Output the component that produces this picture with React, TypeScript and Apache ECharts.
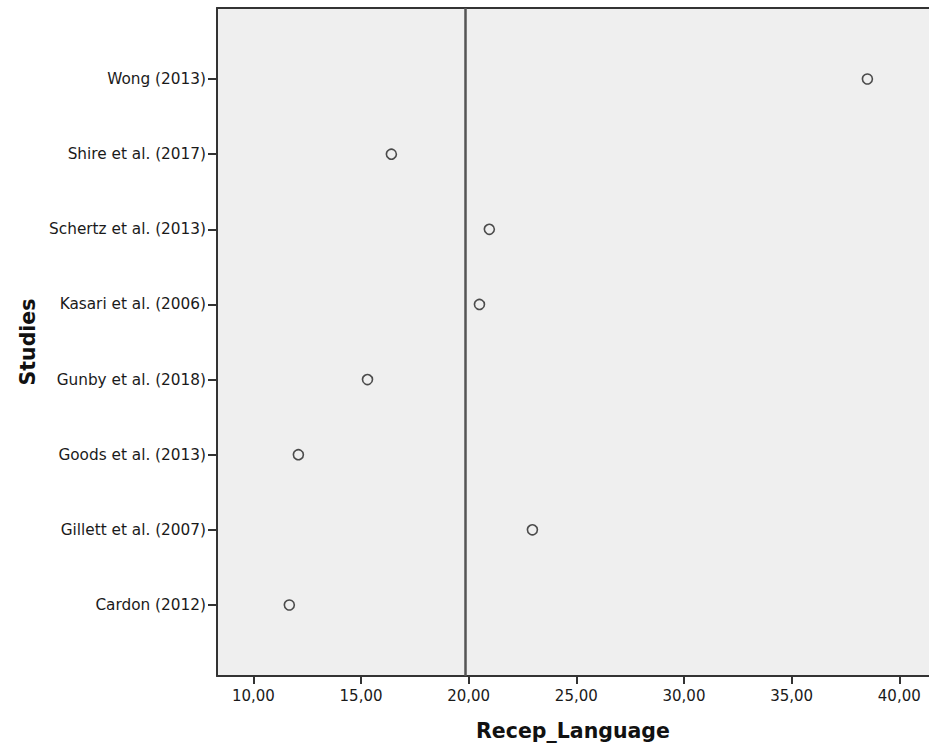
import React, { useEffect, useRef } from "react";
import * as echarts from "echarts";

// Studies listed bottom to top (position 1 = bottom)
const studies = [
  "Cardon (2012)",
  "Gillett et al. (2007)",
  "Goods et al. (2013)",
  "Gunby et al. (2018)",
  "Kasari et al. (2006)",
  "Schertz et al. (2013)",
  "Shire et al. (2017)",
  "Wong (2013)",
];
const recepLanguage = [11.67, 22.96, 12.09, 15.3, 20.5, 20.96, 16.41, 38.52];
const referenceValue = 19.86;
const xTicks = [10, 15, 20, 25, 30, 35, 40];
const xMin = 8.31;
const xMax = 41.38;

const labelFont = "DejaVu Sans";

export default function App() {
  const ref = useRef<HTMLDivElement>(null);
  useEffect(() => {
    if (!ref.current) return;
    const chart = echarts.init(ref.current, undefined, { renderer: "svg" });
    const positions = studies.map((_, i) => i + 1);
    const data = studies.map((_, i) => [recepLanguage[i], positions[i]]);
    chart.setOption({
      animation: false,
      backgroundColor: "#ffffff",
      grid: {
        left: 217,
        top: 8,
        right: 0,
        bottom: 72,
        show: true,
        backgroundColor: "#efefef",
        borderWidth: 0,
      },
      xAxis: [
        {
          type: "value",
          min: xMin,
          max: xMax,
          name: "Recep_Language",
          nameLocation: "middle",
          nameGap: 44,
          nameTextStyle: {
            fontFamily: labelFont,
            fontWeight: "bold",
            fontSize: 20.5,
            color: "#111111",
          },
          axisLine: { show: true, onZero: false, lineStyle: { color: "#333333", width: 2 } },
          axisTick: {
            show: true,
            length: 8,
            customValues: xTicks,
            lineStyle: { color: "#333333", width: 2 },
          },
          axisLabel: {
            customValues: xTicks,
            margin: 12,
            fontFamily: labelFont,
            fontSize: 15,
            color: "#1a1a1a",
            formatter: (v: number) => v.toFixed(2).replace(".", ","),
          },
          splitLine: { show: false },
        },
        {
          type: "value",
          position: "top",
          min: xMin,
          max: xMax,
          axisLine: { show: true, onZero: false, lineStyle: { color: "#333333", width: 2 } },
          axisTick: { show: false },
          axisLabel: { show: false },
          splitLine: { show: false },
        },
      ],
      yAxis: {
        type: "value",
        min: 0.055,
        max: 8.945,
        name: "Studies",
        nameLocation: "middle",
        nameGap: 178,
        nameTextStyle: {
          fontFamily: labelFont,
          fontWeight: "bold",
          fontSize: 20.5,
          color: "#111111",
        },
        axisLine: { show: true, onZero: false, lineStyle: { color: "#333333", width: 2 } },
        axisTick: {
          show: true,
          length: 9,
          customValues: positions,
          lineStyle: { color: "#333333", width: 2 },
        },
        axisLabel: {
          customValues: positions,
          margin: 11,
          fontFamily: labelFont,
          fontSize: 15.3,
          color: "#1a1a1a",
          formatter: (v: number) => studies[Math.round(v) - 1] ?? "",
        },
        splitLine: { show: false },
      },
      series: [
        {
          type: "scatter",
          xAxisIndex: 0,
          data,
          symbol: "circle",
          symbolSize: 10,
          itemStyle: {
            color: "#efefef",
            borderColor: "#222222",
            borderWidth: 1.6,
          },
          markLine: {
            silent: true,
            symbol: "none",
            label: { show: false },
            lineStyle: { color: "#555555", width: 2.5, type: "solid" },
            data: [{ xAxis: referenceValue }],
          },
        },
      ],
    });
    return () => chart.dispose();
  }, []);
  return (
    <div
      ref={ref}
      style={{ position: "fixed", left: 0, top: 0, width: 929, height: 748 }}
    />
  );
}
